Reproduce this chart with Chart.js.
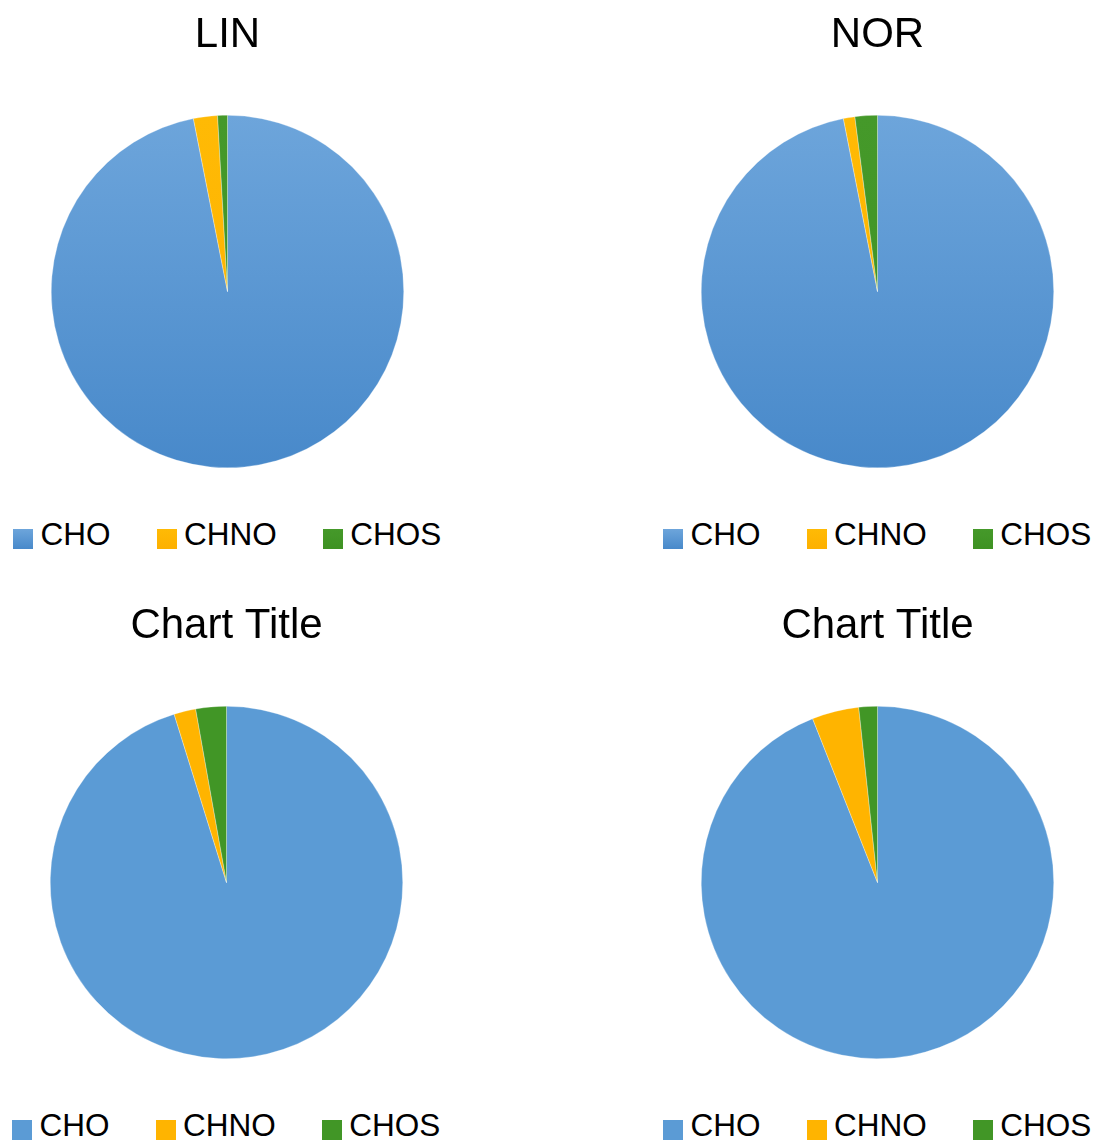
<!DOCTYPE html>
<html>
<head>
<meta charset="utf-8">
<script src="https://cdn.jsdelivr.net/npm/chart.js@4.4.1/dist/chart.umd.min.js"></script>
<style>
  html, body { margin: 0; padding: 0; background: #fff; }
  body { width: 1096px; height: 1142px; position: relative; overflow: hidden;
         font-family: "Liberation Sans", Arial, sans-serif; }
  .cell { position: absolute; width: 455px; height: 468px; }
  .cell canvas { display: block; }
  .legend { position: absolute; display: flex; flex-direction: row; align-items: flex-start;
            font-size: 31.5px; line-height: 31px; color: #000; white-space: nowrap; }
  .legend .item { display: flex; align-items: flex-start; margin-right: 46px; }
  .legend .item:last-child { margin-right: 0; }
  .legend .box { width: 20px; height: 20px; margin-top: 9.6px; margin-right: 7.5px; }
</style>
</head>
<body>
<script>
// Formula classes shown in every pie
const categories = ['CHO', 'CHNO', 'CHOS'];

// Share of each class (%) per sample
const linValues    = [96.9, 2.2, 0.9];
const norValues    = [96.9, 1.05, 2.05];
const thirdValues  = [95.2, 2.0, 2.8];
const fourthValues = [94.0, 4.3, 1.7];

const chartTitles = ['LIN', 'NOR', 'Chart Title', 'Chart Title'];

const flatColors = ['#5B9BD5', '#FFB400', '#419626'];
// top/bottom stops for the shaded variant
const shadeStops = [
  ['#6DA5DB', '#4889CA'],
  ['#FFBA05', '#FDB000'],
  ['#45992A', '#3E9223']
];

const panels = [
  { title: chartTitles[0], values: linValues,    left: 0,   top: 0,   shaded: true },
  { title: chartTitles[1], values: norValues,    left: 650, top: 0,   shaded: true },
  { title: chartTitles[2], values: thirdValues,  left: -1,  top: 591, shaded: false },
  { title: chartTitles[3], values: fourthValues, left: 650, top: 591, shaded: false }
];

function shadedFill(ctx, stops) {
  const chart = ctx.chart;
  const area = chart.chartArea;
  if (!area) return stops[0];
  const g = chart.ctx.createLinearGradient(0, area.top, 0, area.bottom);
  g.addColorStop(0, stops[0]);
  g.addColorStop(1, stops[1]);
  return g;
}

panels.forEach((p) => {
  const wrap = document.createElement('div');
  wrap.className = 'cell';
  wrap.style.left = p.left + 'px';
  wrap.style.top = p.top + 'px';
  const canvas = document.createElement('canvas');
  canvas.width = 455;
  canvas.height = 468;
  canvas.style.width = '455px';
  canvas.style.height = '468px';
  wrap.appendChild(canvas);
  document.body.appendChild(wrap);

  new Chart(canvas, {
    type: 'pie',
    data: {
      labels: categories,
      datasets: [{
        data: p.values,
        backgroundColor: p.shaded
          ? (ctx) => shadedFill(ctx, shadeStops[ctx.dataIndex])
          : flatColors,
        borderColor: 'rgba(255,255,255,0.6)',
        borderWidth: 0.5
      }]
    },
    options: {
      responsive: false,
      animation: false,
      devicePixelRatio: 1,
      layout: { padding: 0 },
      plugins: {
        legend: { display: false },
        tooltip: { enabled: false },
        title: {
          display: true,
          text: p.title,
          color: '#000',
          font: { family: '"Liberation Sans", Arial, sans-serif', size: 42, weight: 'normal', lineHeight: 1.2 },
          padding: { top: 10, bottom: 54.6 }
        }
      }
    }
  });

  // legend row under the pie
  const legend = document.createElement('div');
  legend.className = 'legend';
  legend.style.left = (p.left + 13) + 'px';
  legend.style.top = (p.top + 519.4) + 'px';
  categories.forEach((name, i) => {
    const item = document.createElement('div');
    item.className = 'item';
    const box = document.createElement('div');
    box.className = 'box';
    box.style.background = p.shaded
      ? 'linear-gradient(' + shadeStops[i][0] + ',' + shadeStops[i][1] + ')'
      : flatColors[i];
    const label = document.createElement('span');
    label.textContent = name;
    item.appendChild(box);
    item.appendChild(label);
    legend.appendChild(item);
  });
  document.body.appendChild(legend);
});
</script>
</body>
</html>
